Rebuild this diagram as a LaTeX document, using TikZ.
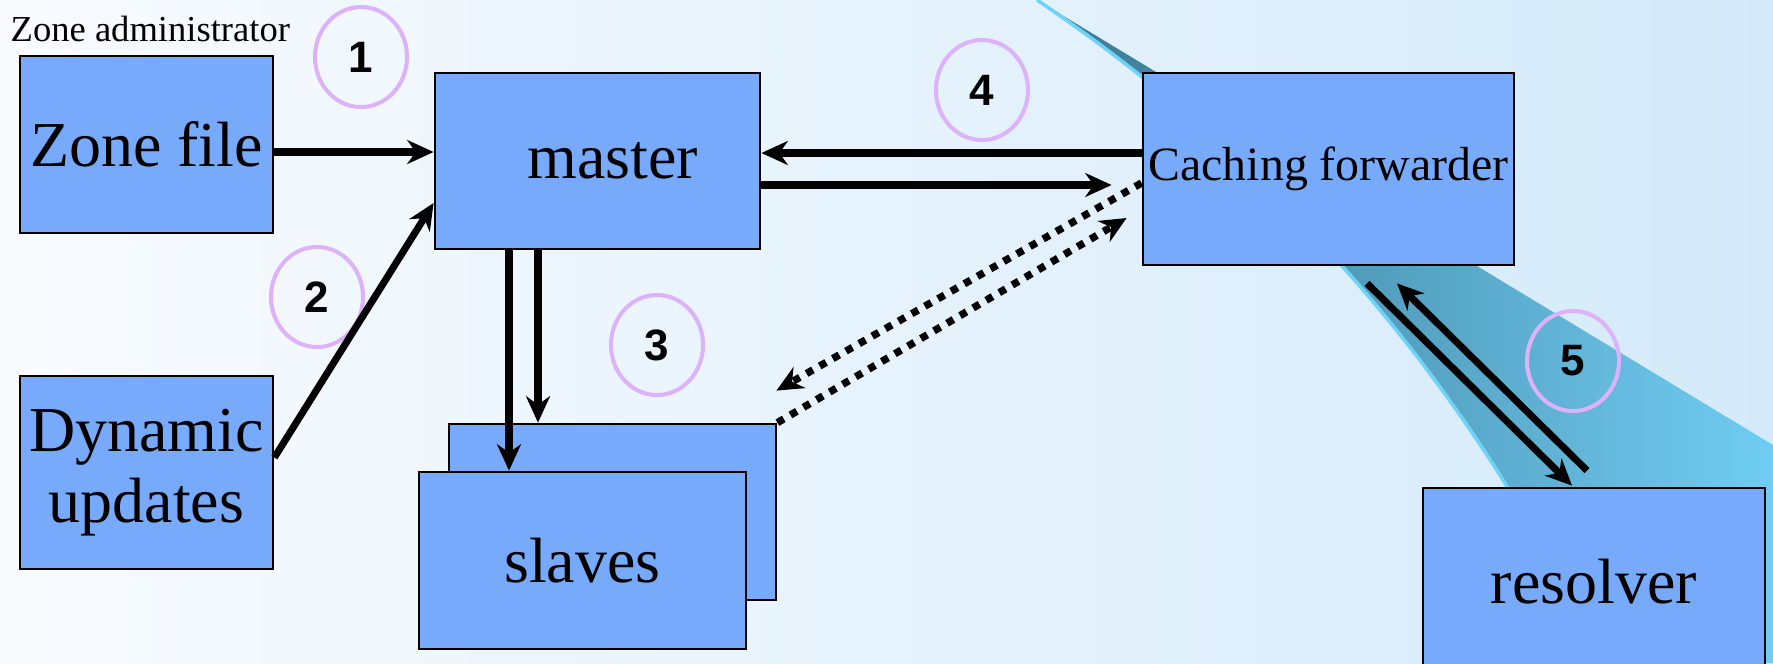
\documentclass[tikz,border=0pt]{standalone}
\usepackage{fontspec}
\setmainfont{Liberation Serif}
\newfontfamily\numfont{Liberation Sans}
\usetikzlibrary{arrows.meta,shapes.geometric,calc}
\definecolor{boxblue}{HTML}{78AAFB}
\definecolor{ringlilac}{HTML}{DCB2FA}
\definecolor{bgleft}{HTML}{F8FBFE}
\definecolor{bgright}{HTML}{D4EAFA}
\definecolor{swdark}{HTML}{3A7893}
\definecolor{swlight}{HTML}{70CCF2}
\definecolor{swedge}{HTML}{6FD2F7}
\tikzset{
  box/.style={draw,fill=boxblue,line width=0.75pt,inner sep=0pt,align=center,font=\fontsize{18.2}{20.2}\selectfont},
  ring/.style={draw=ringlilac,line width=1.15pt,ellipse,minimum width=0.92cm,minimum height=1cm,inner sep=0pt,font=\numfont\bfseries\fontsize{12.5}{12.5}\selectfont},
  flow/.style={line width=2pt,-{Stealth[length=7.5pt,width=6.8pt,inset=2.4pt]}},
  dots/.style={flow,line width=2.1pt,dash pattern=on 2.1pt off 2.2pt}
}
\begin{document}
\begin{tikzpicture}[x=0.01cm,y=-0.01cm]
    \clip (0,0) rectangle (1773,663);
    \shade[left color=bgleft,right color=bgright] (0,0) rectangle (1773,663);
    \shade[left color=swdark,right color=swlight] (1037,0) -- (1773,445) -- (1773,663) -- (1600,663) -- (1508,488) .. controls (1410,330) and (1260,150) .. (1037,0);
    \draw[swedge,line width=1pt] (1037,0) .. controls (1260,150) and (1410,330) .. (1508,488) -- (1600,663);
    \node[anchor=base west,inner sep=0pt,font=\fontsize{10.4}{12}\selectfont] (admin) at (10,41) {Zone administrator};
    \node[box,minimum width=2.53cm,minimum height=1.77cm] (zone) at (146.5,144.5) {Zone file};
    \node[box,minimum width=3.25cm,minimum height=1.76cm] (master) at (597.5,161) {\hspace{0.3cm}master};
    \node[box,minimum width=2.53cm,minimum height=1.93cm] (dyn) at (146.5,472.5) {Dynamic\\updates};
    \node[box,minimum width=3.27cm,minimum height=1.76cm] (slavesback) at (612.5,512) {};
    \node[box,minimum width=3.27cm,minimum height=1.77cm] (slaves) at (582.5,560.5) {slaves};
    \node[box,minimum width=3.71cm,minimum height=1.92cm,font=\fontsize{13.6}{15}\selectfont] (cf) at (1328.5,169) {Caching forwarder};
    \node[box,minimum width=3.42cm,minimum height=1.87cm] (resolver) at (1594,581.5) {resolver};
    \node[ring] (n1) at (361,57) {1};
    \node[ring] (n2) at (317,297) {2};
    \node[ring] (n3) at (657,345) {3};
    \node[ring] (n4) at (982,90) {4};
    \node[ring] (n5) at (1573,361) {5};
    \draw[flow] ($(zone.east)+(0,7.5)$) coordinate (z1) -- (z1 -| master.west);
    \draw[flow] ($(dyn.east)+(0,-15)$) -- ($(master.west)+(0,42)$);
    \draw[flow] ($(master.south)+(-88.5,0)$) coordinate (m1) -- (m1 |- slaves.north);
    \draw[flow] ($(master.south)+(-59.5,0)$) coordinate (m2) -- (m2 |- slavesback.north);
    \draw[flow] ($(cf.west)+(0,-16)$) coordinate (c1) -- (c1 -| master.east);
    \draw[flow] ($(master.east)+(0,24)$) coordinate (m3) -- ($(m3 -| cf.west)+(-30,0)$);
    \draw[dots] ($(cf.west)+(0,14)$) -- ($(slavesback.north east)+(-1,-32)$);
    \draw[dots] (slavesback.north east) -- ($(cf.west)+(-15,49)$);
    \draw[flow] ($(cf.south)+(38.5,17)$) -- ($(resolver.north)+(-22,-1)$);
    \draw[flow] ($(resolver.north)+(-7,-16)$) -- ($(cf.south)+(68.5,17)$);
\end{tikzpicture}
\end{document}
